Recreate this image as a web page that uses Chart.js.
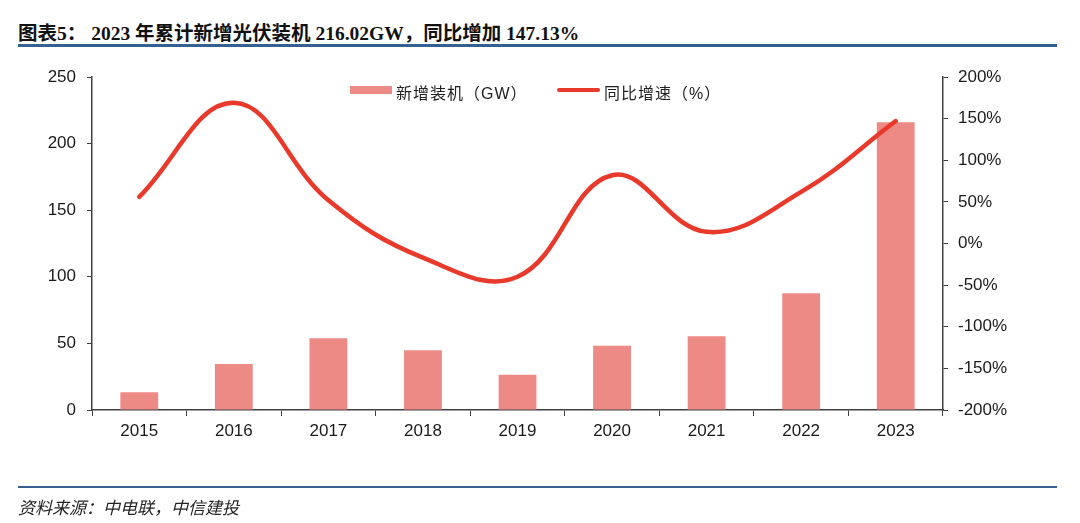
<!DOCTYPE html>
<html>
<head>
<meta charset="utf-8">
<script src="https://cdn.jsdelivr.net/npm/chart.js@4/dist/chart.umd.min.js"></script>
<style>
  body { margin: 0; background: #fff; width: 1080px; height: 523px; position: relative; overflow: hidden; }
  #chart { position: absolute; left: 0; top: 0; }
  .title { position: absolute; left: 18px; top: 17px; font: bold 19.5px "Liberation Serif", "Noto Sans CJK SC"; color: #111; white-space: nowrap; }
  .rule-top { position: absolute; left: 18px; top: 44px; width: 1039px; height: 3px; background: #35608f; }
  .rule-bottom { position: absolute; left: 18px; top: 486px; width: 1039px; height: 2px; background: #35608f; }
  .source { position: absolute; left: 18px; top: 494px; font: italic 17px "Noto Sans CJK SC"; color: #222; white-space: nowrap; }
  .legend { position: absolute; top: 80px; font: 16px "Liberation Sans", "Noto Sans CJK SC"; color: #222; white-space: nowrap; letter-spacing: 1px; }
  .legend span { position: absolute; }
</style>
</head>
<body>
<div class="title">图表5： 2023 年累计新增光伏装机 216.02GW，同比增加 147.13%</div>
<div class="rule-top"></div>
<canvas id="chart" width="1080" height="523"></canvas>
<div class="legend">
  <span style="left:350px;top:6px;width:42px;height:8px;background:#ee8a86"></span>
  <span style="left:396px;top:0">新增装机（GW）</span>
  <span style="left:557px;top:8px;width:43px;height:4px;border-radius:2px;background:#e8392b"></span>
  <span style="left:604px;top:0">同比增速（%）</span>
</div>
<div class="rule-bottom"></div>
<div class="source">资料来源：中电联，中信建投</div>
<script>
var years = ["2015", "2016", "2017", "2018", "2019", "2020", "2021", "2022", "2023"];
var newCapacity = [13.3, 34.5, 53.8, 44.8, 26.5, 48.3, 55.3, 87.6, 216.02];
var yoyGrowth = [56, 169, 52, -17, -40, 82, 14, 62, 147.13];

var ctx = document.getElementById("chart");
var tickFont = { family: "'Liberation Sans', Arial", size: 17 };
var axisColor = '#404040';

var comboChart = new Chart(ctx, {
  data: {
    labels: years,
    datasets: [{
      type: 'line',
      label: '同比增速（%）',
      data: yoyGrowth,
      yAxisID: 'y1',
      borderColor: '#e8392b',
      borderWidth: 4.5,
      borderCapStyle: 'round',
      pointRadius: 0,
      tension: 0.4,
      order: 0
    }, {
      type: 'bar',
      label: '新增装机（GW）',
      data: newCapacity,
      yAxisID: 'y',
      backgroundColor: '#ee8a86',
      categoryPercentage: 1,
      barPercentage: 0.4,
      order: 1
    }]
  },
  options: {
    responsive: false,
    devicePixelRatio: 1,
    animation: false,
    layout: { padding: { top: 77, left: 0, right: 0, bottom: 0 } },
    plugins: {
      legend: { display: false },
      tooltip: { enabled: false }
    },
    scales: {
      x: {
        afterFit: function (s) { s.height = 113; },
        grid: { display: true, drawOnChartArea: false, tickLength: 6, color: axisColor },
        border: { color: axisColor, width: 1.5 },
        ticks: { font: tickFont, color: '#1a1a1a', padding: 5 }
      },
      y: {
        position: 'left',
        min: 0,
        max: 250,
        afterFit: function (s) { s.width = 92; },
        grid: { display: true, drawOnChartArea: false, tickLength: 5, color: axisColor },
        border: { color: axisColor, width: 1.5 },
        ticks: { stepSize: 50, font: tickFont, color: '#1a1a1a', padding: 11 }
      },
      y1: {
        position: 'right',
        min: -200,
        max: 200,
        afterFit: function (s) { s.width = 137; },
        grid: { display: true, drawOnChartArea: false, tickLength: 5, color: axisColor },
        border: { color: axisColor, width: 1.5 },
        ticks: {
          stepSize: 50,
          font: tickFont,
          color: '#1a1a1a',
          padding: 10,
          callback: function (v) { return v + '%'; }
        }
      }
    }
  }
});
</script>
</body>
</html>
